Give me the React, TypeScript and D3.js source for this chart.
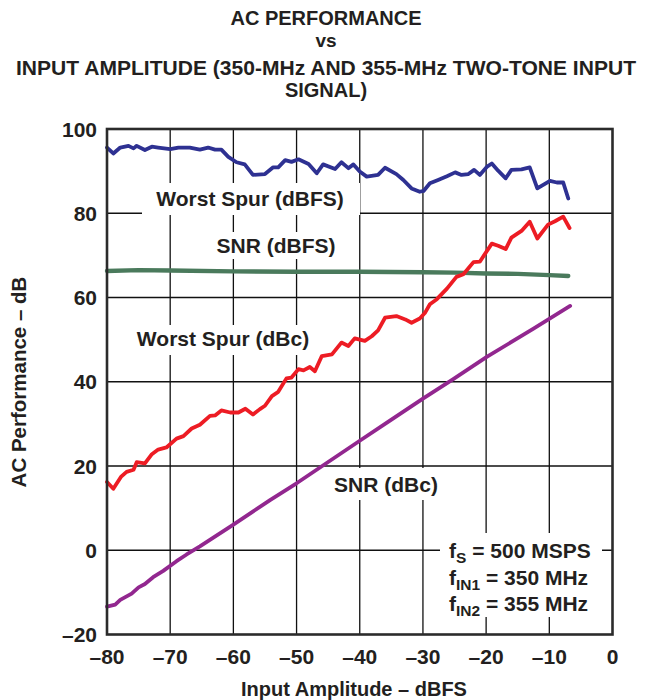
import React from 'react';
import * as d3 from 'd3';

// series, [input amplitude dBFS, value dB]
const worstSpurDbfs: [number, number][] = [
  [-80, 95.6], [-79, 94.2], [-77.9, 95.6], [-76.6, 96], [-75.8, 95.4], [-75.3, 96],
  [-74, 95], [-72.9, 95.8], [-71.9, 95.6], [-70, 95.2], [-68.7, 95.6], [-66.9, 95.6],
  [-65.3, 95.1], [-64, 95.6], [-62.9, 95.1], [-61.9, 95.1], [-60.8, 93.4], [-59.5, 92.1],
  [-58.2, 91.6], [-56.9, 89.1], [-55, 89.3], [-53.7, 90.9], [-52.9, 90.9], [-51.8, 92.6],
  [-50.8, 92.2], [-49.7, 92.8], [-48.1, 91.7], [-46.8, 89.5], [-45.8, 91.6], [-43.9, 90.5],
  [-42.9, 92.1], [-41.8, 90.7], [-41, 91.6], [-40, 89.9], [-38.9, 88.7], [-37.1, 89.1],
  [-36, 90.8], [-34.2, 89.3], [-33.1, 87.9], [-31.8, 85.9], [-30.5, 85.1], [-29.9, 85.3],
  [-28.9, 87.1], [-27.6, 87.9], [-26.2, 88.8], [-24.9, 89.7], [-23.9, 89.1], [-22.8, 89.3],
  [-21.9, 90.3], [-21, 89.1], [-19.9, 91], [-19.1, 91.8], [-18.1, 90.1], [-16.9, 88.3],
  [-16, 90.3], [-14.4, 90.4], [-13.1, 90.9], [-11.9, 85.9], [-9.9, 87.7], [-8.8, 87.3],
  [-7.8, 87.3], [-7, 83.5],
];

const snrDbfs: [number, number][] = [
  [-80, 66.3], [-75, 66.5], [-70, 66.4], [-60, 66.2], [-50, 66.1], [-40, 66.1],
  [-30, 66.0], [-25, 65.9], [-20, 65.7], [-15, 65.6], [-10, 65.3], [-7, 65.1],
];

const worstSpurDbc: [number, number][] = [
  [-80, 16.2], [-79, 14.6], [-77.8, 17.4], [-76.9, 18.6], [-75.8, 19.1], [-75.3, 20.9],
  [-74, 20.6], [-72.9, 22.8], [-71.9, 23.9], [-70.6, 24.4], [-69, 26.5], [-67.9, 27.1],
  [-66.6, 28.9], [-65.3, 29.8], [-63.7, 31.9], [-62.9, 32.0], [-61.9, 33.2], [-60.5, 32.7],
  [-59.2, 32.7], [-58.1, 33.6], [-56.9, 32.2], [-55.8, 33.5], [-55, 34.3], [-53.9, 36.6],
  [-52.9, 37.6], [-51.6, 40.8], [-50.8, 41], [-49.7, 43], [-48.9, 42.7], [-47.9, 43.5],
  [-47.1, 42.5], [-46, 46.1], [-44.4, 46.5], [-42.9, 49.3], [-41.8, 48.5], [-40.8, 50.3],
  [-39.2, 49.7], [-38.1, 50.8], [-37.1, 52.2], [-36, 55.2], [-34.2, 55.6], [-32.8, 54.8],
  [-31.8, 54], [-30.5, 55], [-29.7, 56.3], [-28.9, 58.4], [-27.8, 59.6], [-26.2, 62.1],
  [-24.7, 64.9], [-23.6, 65.5], [-22, 68.4], [-21, 68.5], [-19.1, 72.8], [-18.1, 72.3],
  [-16.9, 71.5], [-16, 74.2], [-14.4, 75.8], [-13.1, 78], [-11.9, 74], [-10.2, 77.3],
  [-9.1, 78.1], [-7.8, 79.2], [-6.8, 76.5],
];

const snrDbc: [number, number][] = [
  [-80, -13.4], [-78.7, -12.9], [-77.9, -11.8], [-76.1, -10.3], [-75, -8.8], [-74, -8.0],
  [-72.7, -6.4], [-71.1, -4.9], [-69, -2.6], [-67.4, -1.0], [-65.3, 0.9], [-60, 6.1],
  [-57.1, 9.0], [-54.2, 11.9], [-50, 15.9], [-40, 26.0], [-35.7, 30.3], [-30, 36],
  [-25.2, 40.6], [-19.9, 45.9], [-12.5, 52.6], [-6.7, 58.0],
];

const xTicks = [-80, -70, -60, -50, -40, -30, -20, -10, 0];
const yTicks = [-20, 0, 20, 40, 60, 80, 100];
const titleLines = ['AC PERFORMANCE', 'vs', 'INPUT AMPLITUDE (350-MHz AND 355-MHz TWO-TONE INPUT', 'SIGNAL)'];

const FONT = '"Liberation Sans", Arial, sans-serif';
const INK = '#231f20';

const fmt = (d: number) => String(d).replace('-', '\u2013');

const App: React.FC = () => {
  const x = d3.scaleLinear().domain([-80, 0]).range([107, 612.5]);
  const y = d3.scaleLinear().domain([-20, 100]).range([634.5, 129]);
  const line = d3.line<[number, number]>().x(d => x(d[0])).y(d => y(d[1]));

  const series = [
    { data: snrDbc, color: '#92278f', w: 3.8 },
    { data: snrDbfs, color: '#4a7a5c', w: 4.4 },
    { data: worstSpurDbc, color: '#ed1c24', w: 3.8 },
    { data: worstSpurDbfs, color: '#2e3192', w: 3.8 },
  ];

  // white boxes behind the in-plot labels
  const boxes = [
    { x0: 142, x1: 360, y0: 183, y1: 215 },
    { x0: 205, x1: 348, y0: 232, y1: 259 },
    { x0: 128, x1: 318, y0: 325, y1: 355 },
    { x0: 322, x1: 448, y0: 468, y1: 500 },
    { x0: 440, x1: 602, y0: 533, y1: 617 },
  ];

  const titleY = [25, 47, 75, 97];

  return (
    <svg width={650} height={700} style={{ position: 'absolute', left: 0, top: 0 }}>
      <rect width={650} height={700} fill="#fff" />
      {titleLines.map((t, i) => (
        <text key={t} x={326} y={titleY[i]} textAnchor="middle" fontFamily={FONT}
          fontWeight="bold" fontSize={i === 1 ? 19 : 20} fill={INK}
          textLength={i === 2 ? 620 : undefined} lengthAdjust="spacingAndGlyphs">{t}</text>
      ))}

      {/* grid */}
      {xTicks.slice(1, -1).map(t => (
        <line key={'gx' + t} x1={x(t)} x2={x(t)} y1={y(100)} y2={y(-20)} stroke="#111" strokeWidth={1.3} />
      ))}
      {yTicks.slice(1, -1).map(t => (
        <line key={'gy' + t} x1={x(-80)} x2={x(0)} y1={y(t)} y2={y(t)} stroke="#111" strokeWidth={1.3} />
      ))}

      {boxes.map((b, i) => (
        <rect key={'b' + i} x={b.x0} y={b.y0} width={b.x1 - b.x0} height={b.y1 - b.y0} fill="#fff" />
      ))}

      {series.map((s, i) => (
        <path key={'s' + i} d={line(s.data) || ''} fill="none" stroke={s.color}
          strokeWidth={s.w} strokeLinejoin="round" strokeLinecap="round" />
      ))}

      <rect x={x(-80)} y={y(100)} width={x(0) - x(-80)} height={y(-20) - y(100)}
        fill="none" stroke="#2b2b2b" strokeWidth={2.6} />

      {yTicks.map(t => (
        <text key={'ty' + t} x={97} y={y(t) + 7.5} textAnchor="end" fontFamily={FONT}
          fontWeight="bold" fontSize={21} fill={INK}>{fmt(t)}</text>
      ))}
      {xTicks.map(t => (
        <text key={'tx' + t} x={x(t)} y={664} textAnchor="middle" fontFamily={FONT}
          fontWeight="bold" fontSize={21} fill={INK}>{fmt(t)}</text>
      ))}

      <text x={354} y={696} textAnchor="middle" fontFamily={FONT} fontWeight="bold"
        fontSize={20} fill={INK}>Input Amplitude – dBFS</text>
      <text transform={`translate(26,382) rotate(-90)`} textAnchor="middle"
        fontFamily={FONT} fontWeight="bold" fontSize={20.5} fill={INK}>AC Performance – dB</text>

      <g fontFamily={FONT} fontWeight="bold" fontSize={21} fill={INK}>
        <text x={250} y={206} textAnchor="middle">Worst Spur (dBFS)</text>
        <text x={276} y={253} textAnchor="middle">SNR (dBFS)</text>
        <text x={223} y={346} textAnchor="middle">Worst Spur (dBc)</text>
        <text x={386} y={492} textAnchor="middle">SNR (dBc)</text>
        <text x={449} y={558}>f<tspan fontSize={15.5} dy={5}>S</tspan><tspan dy={-5}> = 500 MSPS</tspan></text>
        <text x={449} y={585}>f<tspan fontSize={15.5} dy={5}>IN1</tspan><tspan dy={-5}> = 350 MHz</tspan></text>
        <text x={449} y={611}>f<tspan fontSize={15.5} dy={5}>IN2</tspan><tspan dy={-5}> = 355 MHz</tspan></text>
      </g>
    </svg>
  );
};

export default App;
